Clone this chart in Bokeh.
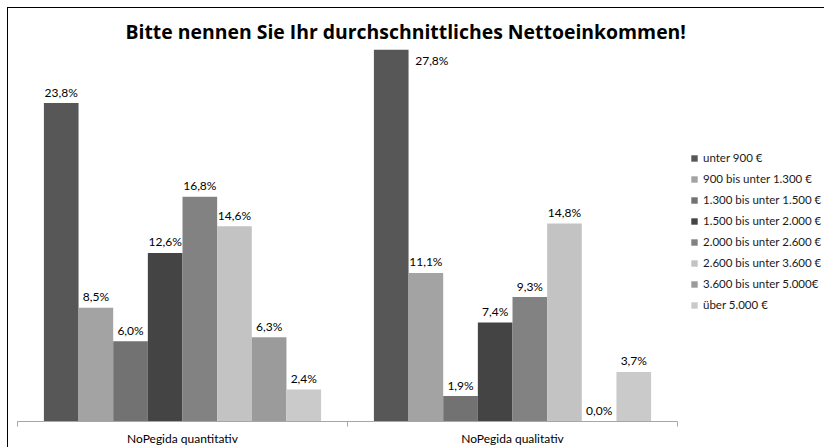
import numpy as np
from bokeh.plotting import figure
from bokeh.models import (ColumnDataSource, Range1d, FixedTicker, Legend, LegendItem)
from bokeh.core.properties import value
from bokeh.embed import file_html
from bokeh.resources import INLINE

# ---------------- data ----------------
title_text = "Bitte nennen Sie Ihr durchschnittliches Nettoeinkommen!"
groups = ["NoPegida quantitativ", "NoPegida qualitativ"]
series = ["unter 900 €", "900 bis unter 1.300 €", "1.300 bis unter 1.500 €",
          "1.500 bis unter 2.000 €", "2.000 bis unter 2.600 €", "2.600 bis unter 3.600 €",
          "3.600 bis unter 5.000€", "über 5.000 €"]
quantitativ = [23.8, 8.5, 6.0, 12.6, 16.8, 14.6, 6.3, 2.4]
qualitativ = [27.8, 11.1, 1.9, 7.4, 9.3, 14.8, 0.0, 3.7]
colors = ["#575757", "#a3a3a3", "#727272", "#444444", "#828282", "#c3c3c3", "#9b9b9b", "#cacaca"]

# ---------------- layout (pixels) ----------------
OFF = 8                                 # outer chart border sits 8px inside the window
W, H = 825 - OFF, 448 - OFF             # canvas size
FRAME_L, FRAME_T, FRAME_B = 17, 49, 425  # page coordinates of plot area
GROUP_PX = 330                          # width of one category slot
FONT = "Lato"
bar_w = 0.105

values = np.array([quantitativ, qualitativ])  # groups x series
n_groups, n_series = values.shape
y_end = float(values.max())
frame_w = 825 - FRAME_L
x_start = -0.5
x_end = x_start + frame_w / GROUP_PX

p = figure(width=W, height=H, output_backend="svg", toolbar_location=None,
           x_range=Range1d(x_start, x_end), y_range=Range1d(0, y_end),
           min_border_left=FRAME_L - OFF, min_border_right=0,
           min_border_top=FRAME_T - OFF, min_border_bottom=448 - FRAME_B,
           y_axis_location=None)
p.outline_line_color = None
p.grid.visible = False
p.background_fill_color = "white"
p.border_fill_color = "white"
p.styles = {"margin-left": f"{OFF - 1}px", "margin-top": f"{OFF - 1}px",
            "border-left": "1px solid #000000", "border-top": "1px solid #000000"}

# bars
items = []
lab_x, lab_y, lab_t = [], [], []
over_x, over_y, over_t = [], [], []
for j, name in enumerate(series):
    xs = np.arange(n_groups) + (j - (n_series - 1) / 2) * bar_w
    src = ColumnDataSource(dict(x=xs, top=values[:, j]))
    r = p.vbar(x="x", top="top", width=bar_w, source=src, fill_color=colors[j],
               line_color=None)
    items.append(LegendItem(label=name, renderers=[r]))
    for g in range(n_groups):
        v = values[g, j]
        txt = f"{v:.1f}".replace(".", ",") + "%"
        if v >= y_end:
            over_x.append(xs[g]); over_y.append(v); over_t.append(txt)
        else:
            lab_x.append(xs[g]); lab_y.append(v); lab_t.append(txt)

p.text(x=lab_x, y=lab_y, text=lab_t, text_font=value(FONT), text_font_size="12px",
       text_align="center", text_baseline="middle", y_offset=-11, text_color="#000000")
p.text(x=over_x, y=over_y, text=over_t, text_font=value(FONT), text_font_size="12px",
       text_align="left", text_baseline="middle", x_offset=24, y_offset=11,
       text_color="#000000")

# x axis: category labels at centers, separator ticks at boundaries,
# axis line limited to the category slots
ax = p.xaxis[0]
ax.bounds = (x_start, x_start + n_groups)
ax.ticker = FixedTicker(ticks=list(range(n_groups)),
                        minor_ticks=[g - 0.5 for g in range(n_groups + 1)])
ax.major_label_overrides = {g: groups[g] for g in range(n_groups)}
ax.major_tick_line_color = None
ax.major_tick_out = 0
ax.major_tick_in = 0
ax.minor_tick_line_color = "#a6a6a6"
ax.minor_tick_out = 5
ax.minor_tick_in = 0
ax.axis_line_color = "#a6a6a6"
ax.major_label_standoff = 4
ax.major_label_text_font = FONT
ax.major_label_text_font_size = "12px"
ax.major_label_text_line_height = 1.0
ax.major_label_text_color = "#000000"

# title
p.title.text = title_text
p.title.align = "left"
p.title.offset = 108
p.title.text_font = "Open Sans"
p.title.text_font_size = "19.4px"
p.title.text_font_style = "bold"
p.title.text_color = "#000000"

# legend (inside the plot area, right of the bars)
legend = Legend(items=items, location=(673, 110), padding=0, margin=0,
                glyph_width=8, glyph_height=8, label_height=13, spacing=8,
                label_standoff=5, label_text_font=FONT, label_text_font_size="11.5px",
                label_text_color="#1a1a1a", border_line_color=None,
                background_fill_alpha=0)
p.add_layout(legend, "center")

open("out.html", "w").write(file_html(p, INLINE))
